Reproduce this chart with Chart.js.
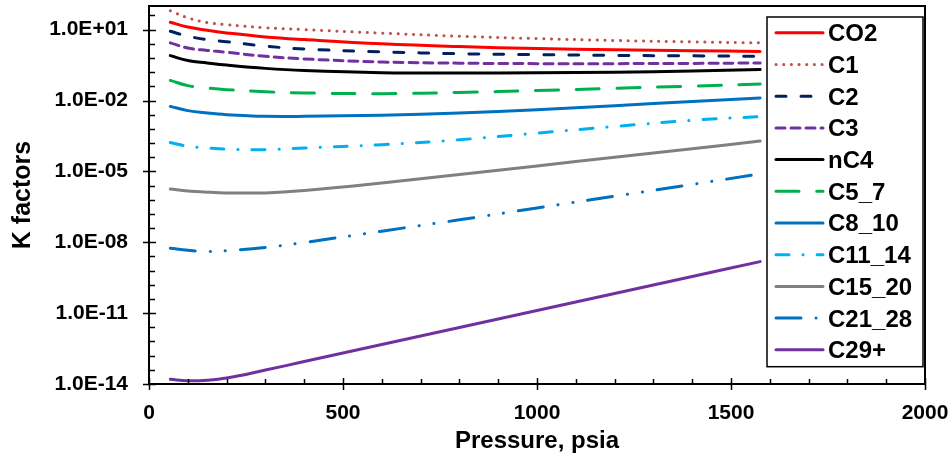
<!DOCTYPE html>
<html>
<head>
<meta charset="utf-8">
<script src="https://cdn.jsdelivr.net/npm/chart.js@4"></script>
<style>
  html, body { margin: 0; padding: 0; background: #fff; }
</style>
</head>
<body>
<canvas id="myChart" width="951" height="462"></canvas>
<script>
// pressure (psia) and K factors
const pressure = [55, 100, 150, 200, 300, 400, 600, 800, 1000, 1200, 1400, 1575];
const kCO2    = [20.4, 12.9, 9.33, 7.24, 4.90, 3.80, 2.51, 1.91, 1.58, 1.41, 1.29, 1.20];
const kC1     = [63.1, 31.6, 20.0, 16.2, 12.0, 10.0, 7.08, 5.25, 4.17, 3.47, 3.02, 2.75];
const kC2     = [8.51, 5.25, 3.80, 3.09, 2.00, 1.51, 1.15, 0.955, 0.871, 0.813, 0.776, 0.741];
const kC3     = [2.75, 1.66, 1.32, 1.10, 0.741, 0.575, 0.427, 0.380, 0.363, 0.363, 0.372, 0.389];
const kNC4    = [0.794, 0.490, 0.389, 0.316, 0.229, 0.186, 0.151, 0.145, 0.148, 0.158, 0.178, 0.204];
const kC5_7   = [0.0708, 0.0427, 0.0339, 0.0288, 0.0234, 0.0209, 0.0195, 0.0219, 0.0263, 0.0331, 0.0407, 0.0501];
const kC8_10  = [5.62e-3, 3.72e-3, 2.95e-3, 2.51e-3, 2.14e-3, 2.14e-3, 2.40e-3, 2.95e-3, 4.07e-3, 6.03e-3, 9.12e-3, 1.29e-2];
const kC11_14 = [1.66e-4, 1.15e-4, 9.77e-5, 8.71e-5, 8.32e-5, 9.77e-5, 1.35e-4, 2.19e-4, 4.17e-4, 7.94e-4, 1.45e-3, 2.09e-3];
const kC15_20 = [1.78e-6, 1.48e-6, 1.32e-6, 1.23e-6, 1.23e-6, 1.55e-6, 3.24e-6, 7.41e-6, 1.70e-5, 3.98e-5, 9.12e-5, 1.91e-4];
const kC21_28 = [5.62e-9, 4.57e-9, 4.07e-9, 4.37e-9, 6.03e-9, 9.77e-9, 2.95e-8, 8.91e-8, 2.82e-7, 8.91e-7, 2.82e-6, 7.76e-6];
const kC29p   = [1.58e-14, 1.38e-14, 1.45e-14, 1.78e-14, 3.89e-14, 8.91e-14, 4.68e-13, 2.45e-12, 1.29e-11, 6.76e-11, 3.55e-10, 1.51e-9];

const seriesNames = ['CO2', 'C1', 'C2', 'C3', 'nC4', 'C5_7', 'C8_10', 'C11_14', 'C15_20', 'C21_28', 'C29+'];
const seriesValues = [kCO2, kC1, kC2, kC3, kNC4, kC5_7, kC8_10, kC11_14, kC15_20, kC21_28, kC29p];

const xTickValues = [0, 500, 1000, 1500, 2000];
const xTickLabels = ['0', '500', '1000', '1500', '2000'];
const yTickValues = [1e-14, 1e-11, 1e-8, 1e-5, 1e-2, 1e1];
const yTickLabels = ['1.0E-14', '1.0E-11', '1.0E-08', '1.0E-05', '1.0E-02', '1.0E+01'];

// line styles
const colors = ['#FF0000', '#C0504D', '#002060', '#7030A0', '#000000', '#00B050',
                '#0070C0', '#00B0F0', '#808080', '#0070C0', '#7030A0'];
const dashes = [[], [0.1, 7.57], [10, 15], [9, 6], [], [23, 17.7],
                [], [13, 14, 0.1, 14], [], [25, 15, 0.1, 15, 0.1, 15], []];

const FONT = '"Liberation Sans", Arial, sans-serif';
Chart.defaults.font.family = FONT;
Chart.defaults.font.weight = 'bold';
Chart.defaults.color = '#000';

// frame + crossing major ticks + inside minor ticks
const frameTicks = {
  id: 'frameTicks',
  afterDraw(chart) {
    const ctx = chart.ctx;
    const a = chart.chartArea;
    const x = chart.scales.x, y = chart.scales.y;
    ctx.save();
    ctx.strokeStyle = '#000';
    ctx.lineWidth = 2;
    ctx.strokeRect(a.left, a.top, a.right - a.left, a.bottom - a.top);
    ctx.lineWidth = 1.5;
    ctx.beginPath();
    for (let v = 0; v <= 2000; v += 100) {
      const px = Math.round(x.getPixelForValue(v)) + 0.5;
      if (v % 500 === 0) { ctx.moveTo(px, a.bottom - 6); ctx.lineTo(px, a.bottom + 6); }
      else { ctx.moveTo(px, a.bottom - 5); ctx.lineTo(px, a.bottom); }
    }
    for (let k = 0; k <= 26; k++) {
      const py = Math.round(y.getPixelForValue(Math.pow(10, -14 + 0.6 * k))) + 0.5;
      if (k % 5 === 0) { ctx.moveTo(a.left - 6, py); ctx.lineTo(a.left + 7, py); }
      else { ctx.moveTo(a.left, py); ctx.lineTo(a.left + 6, py); }
    }
    ctx.stroke();
    ctx.restore();
  }
};

// legend box inside the plot, top right
const boxLegend = {
  id: 'boxLegend',
  afterDraw(chart) {
    const ctx = chart.ctx;
    const a = chart.chartArea;
    const right = a.right - 2, left = right - 156;
    const top = a.top + 11, rowH = 31.7;
    const sets = chart.data.datasets;
    ctx.save();
    ctx.fillStyle = '#fff';
    ctx.fillRect(left, top, right - left, rowH * sets.length + 1);
    ctx.strokeStyle = '#000';
    ctx.lineWidth = 1.5;
    ctx.strokeRect(left, top, right - left, rowH * sets.length + 1);
    ctx.font = 'bold 24px ' + FONT;
    ctx.textBaseline = 'alphabetic';
    sets.forEach((ds, i) => {
      const cy = top + 15.8 + rowH * i;
      ctx.beginPath();
      ctx.strokeStyle = ds.borderColor;
      ctx.lineWidth = ds.borderWidth;
      ctx.lineCap = 'round';
      ctx.setLineDash(ds.borderDash);
      ctx.moveTo(left + 9, cy);
      ctx.lineTo(left + 56, cy);
      ctx.stroke();
      ctx.setLineDash([]);
      ctx.fillStyle = '#000';
      ctx.fillText(ds.label, left + 61, cy + 8.4);
    });
    ctx.restore();
  }
};

const ctx = document.getElementById('myChart');
const myChart = new Chart(ctx, {
  type: 'line',
  data: {
    datasets: seriesNames.map((name, i) => ({
      label: name,
      data: pressure.map((p, j) => ({ x: p, y: seriesValues[i][j] })),
      borderColor: colors[i],
      backgroundColor: colors[i],
      borderDash: dashes[i],
      borderCapStyle: 'round',
      borderWidth: 3,
      pointRadius: 0,
      tension: 0.4,
      fill: false
    }))
  },
  options: {
    responsive: false,
    animation: false,
    devicePixelRatio: 1,
    layout: { autoPadding: false, padding: { left: 0, top: 6, right: 26, bottom: 0 } },
    plugins: {
      legend: { display: false },
      tooltip: { enabled: false }
    },
    scales: {
      x: {
        type: 'linear',
        min: 0,
        max: 2000,
        afterBuildTicks: s => { s.ticks = xTickValues.map(v => ({ value: v })); },
        ticks: {
          padding: 17,
          maxRotation: 0,
          font: { size: 21, weight: 'bold' },
          callback: (v, i) => xTickLabels[i]
        },
        grid: { display: false, drawTicks: false },
        border: { display: false },
        title: {
          display: true,
          text: 'Pressure, psia',
          font: { size: 24, weight: 'bold' },
          padding: { top: 0, bottom: 6 }
        },
        afterFit: s => { s.height = 78; s.paddingLeft = 0; s.paddingRight = 0; }
      },
      y: {
        type: 'logarithmic',
        min: 1e-14,
        max: 100,
        afterBuildTicks: s => { s.ticks = yTickValues.map(v => ({ value: v })); },
        ticks: {
          padding: 21,
          autoSkip: false,
          font: { size: 21, weight: 'bold', lineHeight: 0.5 },
          callback: (v, i) => yTickLabels[i]
        },
        grid: { display: false, drawTicks: false },
        border: { display: false },
        title: {
          display: true,
          text: 'K factors',
          font: { size: 25, weight: 'bold' },
          padding: { top: 8, bottom: 0 }
        },
        afterFit: s => { s.width = 149; s.paddingTop = 0; s.paddingBottom = 0; }
      }
    }
  },
  plugins: [frameTicks, boxLegend]
});
</script>
</body>
</html>
